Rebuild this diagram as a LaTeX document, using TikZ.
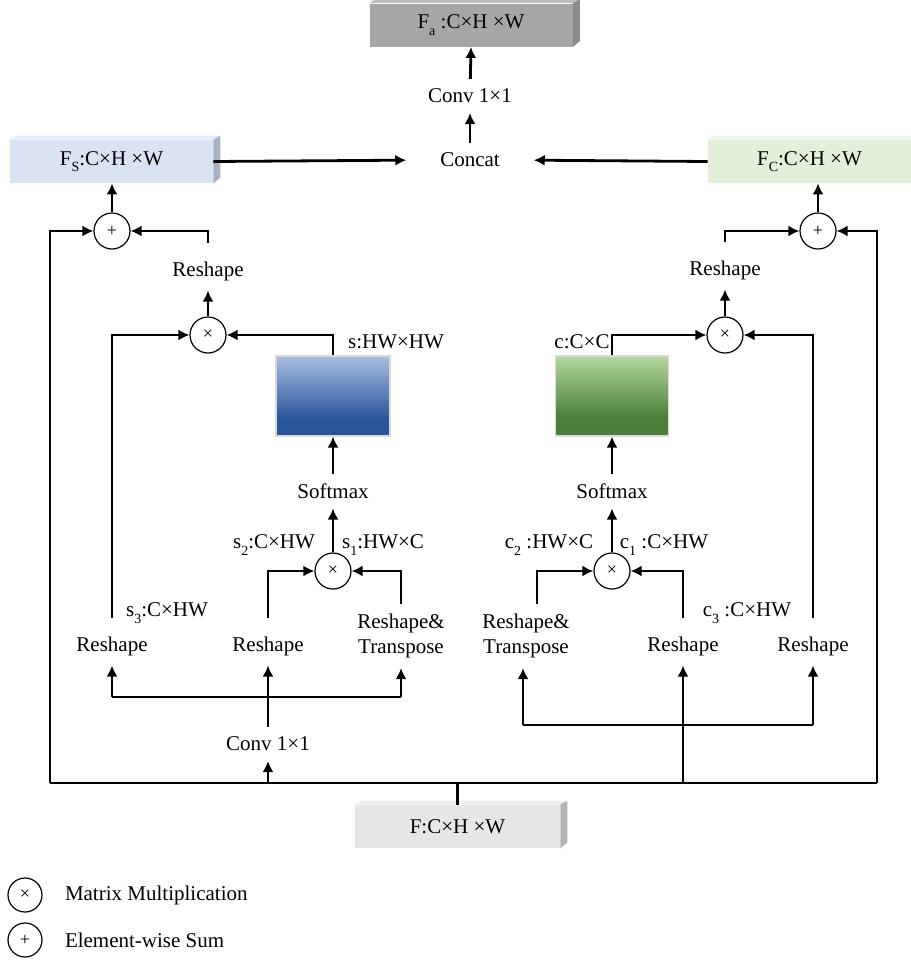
\documentclass[tikz,border=0pt]{standalone}
\usepackage{fontspec}
\setmainfont{Liberation Serif}
\usetikzlibrary{arrows.meta}

\definecolor{faFront}{HTML}{A6A6A6}
\definecolor{faTop}{HTML}{BEBEBE}
\definecolor{faSide}{HTML}{8C8C8C}
\definecolor{fsFront}{HTML}{DAE3F3}
\definecolor{fsTop}{HTML}{E6ECF7}
\definecolor{fsSide}{HTML}{A9B2C0}
\definecolor{fcFront}{HTML}{E2EFD9}
\definecolor{fcTop}{HTML}{EDF5E8}
\definecolor{fFront}{HTML}{E6E6E6}
\definecolor{fTop}{HTML}{EFEFEF}
\definecolor{fSide}{HTML}{B4B4B4}
\definecolor{blueLight}{HTML}{A9BDE2}
\definecolor{blueDark}{HTML}{2A5699}
\definecolor{greenLight}{HTML}{B4D79E}
\definecolor{greenDark}{HTML}{4A7E39}

\pgfdeclareverticalshading{blueGrad}{100bp}{color(0bp)=(blueDark); color(36bp)=(blueDark); color(75bp)=(blueLight); color(100bp)=(blueLight)}
\pgfdeclareverticalshading{greenGrad}{100bp}{color(0bp)=(greenDark); color(36bp)=(greenDark); color(75bp)=(greenLight); color(100bp)=(greenLight)}

\newcommand{\lowidx}[1]{\raisebox{-0.7ex}{\scriptsize #1}}

\begin{document}
\fontsize{10.5}{12.6}\selectfont
\begin{tikzpicture}
[x=0.5pt,y=-0.5pt,
  lineDecorate/.style={line width=1.4pt},
  arrowDecorate/.style={line width=1.4pt,-{Latex[length=5.5pt,width=5.5pt]}},
  opDecorate/.style={shape=circle,draw,line width=0.6pt,minimum size=18pt,inner sep=0pt,font=\small},
  textDecorate/.style={inner sep=3pt,outer sep=2pt,align=center},
  tensorDecorate/.style={minimum width=101.5pt,minimum height=21.5pt,inner sep=0pt},
  mapDecorate/.style={shade,draw=white!70!gray,line width=0.6pt,minimum width=57pt,minimum height=40pt}]
\useasboundingbox (0,0) rectangle (911,970);

%% feature tensors
\node[tensorDecorate,fill=faFront] (fa) at (471,25) {F\lowidx{a} :C×H ×W};
\node[tensorDecorate,fill=fsFront] (fs) at (111.5,161.5) {F\lowidx{S}:C×H ×W};
\node[tensorDecorate,fill=fcFront] (fc) at (809.5,161.5) {F\lowidx{C}:C×H ×W};
\node[tensorDecorate,fill=fFront,minimum width=102.5pt] (f) at (457.5,826.5) {F:C×H ×W};
\foreach \boxname/\topcol/\sidecol in {fa/faTop/faSide, fs/fsTop/fsSide, f/fTop/fSide}
{
  \fill[\topcol] (\boxname.north west) -- ++(7,-4) -- ([xshift=3.5pt,yshift=2pt]\boxname.north east) -- (\boxname.north east) -- cycle;
  \fill[\sidecol] (\boxname.north east) -- ++(7,-4) -- ([xshift=3.5pt,yshift=3pt]\boxname.south east) -- (\boxname.south east) -- cycle;
}
\fill[fcTop] (fc.north west) -- ++(7,-4) -- ([yshift=2pt]fc.north east) -- (fc.north east) -- cycle;

%% top part
\node[textDecorate] (concat) at (470,160) {Concat};
\node[textDecorate] (convTop) at (470,96) {Conv 1×1};

%% spatial branch
\node[opDecorate] (plusL) at (112,231) {+};
\node[textDecorate] (reshL1) at (208,271) {Reshape};
\node[opDecorate] (mulL) at (208,335) {×};
\node[mapDecorate,shading=blueGrad] (sBox) at (333,396) {};
\node[textDecorate] (sLab) at (396,342) {s:HW×HW};
\node[textDecorate] (softL) at (333,491) {Softmax};
\node[opDecorate] (mulL2) at (333,571) {×};
\node[textDecorate] (s2Lab) at (274,545) {s\lowidx{2}:C×HW};
\node[textDecorate] (s1Lab) at (383,545) {s\lowidx{1}:HW×C};
\node[textDecorate] (s3Lab) at (167,613) {s\lowidx{3}:C×HW};
\node[textDecorate] (reshL2) at (112,646) {Reshape};
\node[textDecorate] (reshL3) at (268,646) {Reshape};
\node[textDecorate] (rtL) at (401,636) {Reshape\&\\Transpose};
\node[textDecorate] (convL) at (268,744) {Conv 1×1};

%% channel branch
\node[opDecorate] (plusR) at (818,231) {+};
\node[textDecorate] (reshR1) at (725,270) {Reshape};
\node[opDecorate] (mulR) at (725,335) {×};
\node[mapDecorate,shading=greenGrad,minimum width=56.5pt] (cBox) at (612,396) {};
\node[textDecorate] (cLab) at (582,342) {c:C×C};
\node[textDecorate] (softR) at (612,491) {Softmax};
\node[opDecorate] (mulR2) at (612,571) {×};
\node[textDecorate] (c2Lab) at (549,545) {c\lowidx{2} :HW×C};
\node[textDecorate] (c1Lab) at (664,545) {c\lowidx{1} :C×HW};
\node[textDecorate] (c3Lab) at (747,613) {c\lowidx{3} :C×HW};
\node[textDecorate] (rtR) at (526,636) {Reshape\&\\Transpose};
\node[textDecorate] (reshR2) at (683,646) {Reshape};
\node[textDecorate] (reshR3) at (813,646) {Reshape};

%% bus corners
\coordinate (busL) at (50,783);
\coordinate (busR) at (877,783);
\coordinate (splitL) at (268,697);
\coordinate (splitR) at (683,725);

%% legend
\node[opDecorate,minimum size=17pt] (legMul) at (25,895) {×};
\node[opDecorate,minimum size=17pt] (legPlus) at (25,940) {+};
\node[textDecorate,anchor=west] (legMulText) at (55,895) {Matrix Multiplication};
\node[textDecorate,anchor=west] (legPlusText) at (55,940) {Element-wise Sum};

%% edges or lines
\draw[lineDecorate] (busL) -- (busR);
\draw[lineDecorate] (f.north |- busL) -- (f.north);
\draw[arrowDecorate] (convTop) -- (fa.south);
\draw[arrowDecorate] (concat) -- (convTop);
\draw[arrowDecorate,shorten >=12pt] (fs.east) -- (concat.west);
\draw[arrowDecorate,shorten >=12pt] (fc.west) -- (concat.east);

\draw[arrowDecorate] (busL) |- (plusL.west);
\draw[arrowDecorate] (plusL) -- (plusL |- fs.south);
\draw[arrowDecorate,shorten <=4pt] (reshL1.north) |- (plusL.east);
\draw[arrowDecorate] (mulL) -- (reshL1.south);
\draw[arrowDecorate,shorten <=4pt] (reshL2.north) |- (mulL.west);
\draw[arrowDecorate] (sBox.north) |- (mulL.east);
\draw[arrowDecorate] (softL) -- (sBox.south);
\draw[arrowDecorate] (mulL2) -- (softL);
\draw[arrowDecorate,shorten <=4pt] (reshL3.north) |- (mulL2.west);
\draw[arrowDecorate] (rtL.north) |- (mulL2.east);
\draw[lineDecorate] (reshL2.south |- splitL) -- (rtL.south |- splitL);
\draw[arrowDecorate] (reshL2.south |- splitL) -- (reshL2.south);
\draw[arrowDecorate] (rtL.south |- splitL) -- (rtL.south);
\draw[arrowDecorate] (convL.north) -- (reshL3.south);
\draw[arrowDecorate] (convL.south |- busL) -- (convL.south);

\draw[arrowDecorate] (busR) |- (plusR.east);
\draw[arrowDecorate] (plusR) -- (plusR |- fc.south);
\draw[arrowDecorate,shorten <=4pt] (reshR1.north) |- (plusR.west);
\draw[arrowDecorate] (mulR) -- (reshR1.south);
\draw[arrowDecorate,shorten <=4pt] (reshR3.north) |- (mulR.east);
\draw[arrowDecorate] (cBox.north) |- (mulR.west);
\draw[arrowDecorate] (softR) -- (cBox.south);
\draw[arrowDecorate] (mulR2) -- (softR);
\draw[arrowDecorate] ([xshift=5.5pt]rtR.north) |- (mulR2.west);
\draw[arrowDecorate,shorten <=4pt] (reshR2.north) |- (mulR2.east);
\draw[lineDecorate] ([xshift=-1.5pt]rtR.south |- splitR) -- (reshR3.south |- splitR);
\draw[arrowDecorate] ([xshift=-1.5pt]rtR.south |- splitR) -- ([xshift=-1.5pt]rtR.south);
\draw[arrowDecorate] (reshR3.south |- splitR) -- (reshR3.south);
\draw[arrowDecorate] (reshR2.south |- busL) -- (reshR2.south);
\end{tikzpicture}
\end{document}
